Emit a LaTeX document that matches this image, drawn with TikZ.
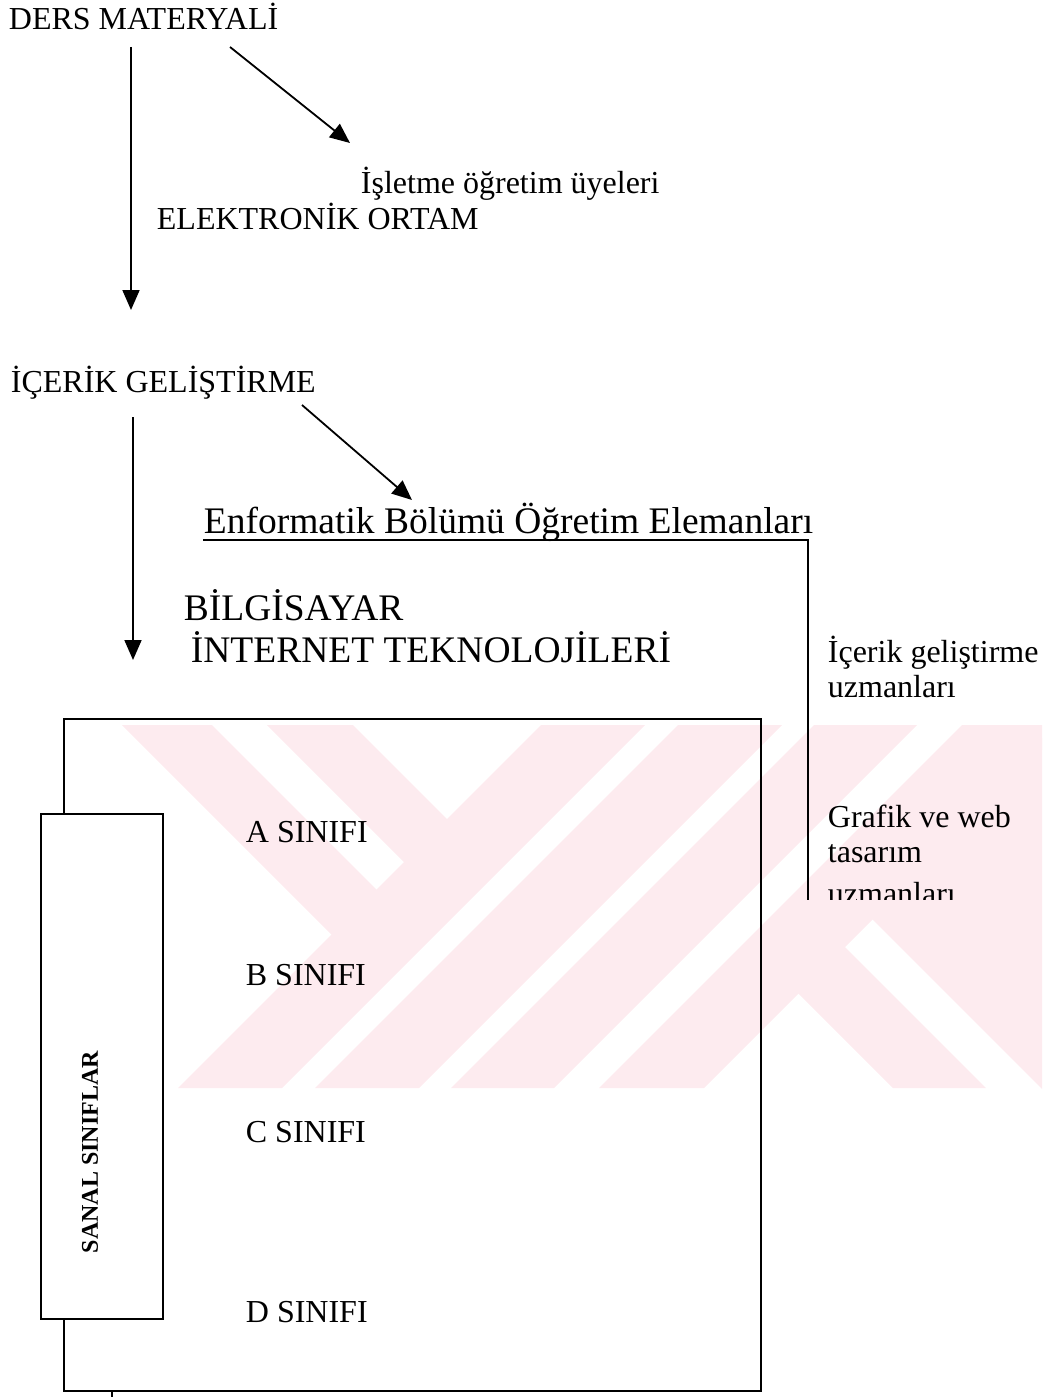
\documentclass[tikz,border=0pt]{standalone}
\usepackage{fontspec}
\setmainfont{Liberation Serif}
\usepackage{tikz}
\usetikzlibrary{positioning, arrows.meta}

\definecolor{wmpink}{RGB}{253,235,239}

\begin{document}
\begin{tikzpicture}[x=1pt, y=-1pt, line width=1.8pt,
        lbl/.style={anchor=base west, inner sep=0pt, font=\fontsize{32}{34}\selectfont},
        big/.style={anchor=base west, inner sep=0pt, font=\fontsize{37.5}{40}\selectfont},
        arr/.style={-{Triangle[length=20pt, width=17pt]}}]
        \useasboundingbox (0,0) rectangle (1042,1397);

        % watermark in the background
        \begin{scope}
            \clip (0,725) rectangle (1042,1088);
            \fill[wmpink] (541,725) -- (645,725) -- (282,1088) -- (178,1088) -- cycle;
            \fill[wmpink] (678,725) -- (782,725) -- (419,1088) -- (315,1088) -- cycle;
            \fill[wmpink] (814,725) -- (917,725) -- (554,1088) -- (451,1088) -- cycle;
            \fill[wmpink] (962,725) -- (1067,725) -- (704,1088) -- (599,1088) -- cycle;
            \fill[wmpink] (122,725) -- (212,725) -- (383.5,896.5) -- (338.5,941.5) -- cycle;
            \fill[wmpink] (267,725) -- (353,725) -- (454,826) -- (411,869) -- cycle;
            \fill[wmpink] (792.5,987.5) -- (839,941) -- (986,1088) -- (893,1088) -- cycle;
            \fill[wmpink] (866.5,913.5) -- (1100,680) -- (1100,1100) -- (1053,1100) -- cycle;
        \end{scope}

        \node[lbl] (ders) at (8,30) {DERS MATERYALİ};
        \node[lbl] (isletme) at (360,193) {İşletme öğretim üyeleri};
        \node[lbl] (elektronik) at (156,229) {ELEKTRONİK ORTAM};

        \node[lbl] (icerik) at (10,392) {İÇERİK GELİŞTİRME};
        \node[big] (enf) at (203,533) {Enformatik Bölümü Öğretim Elemanları};
        \node[big] (bilgisayar) at (183,620) {BİLGİSAYAR};
        \node[big] (internet) at (190,662) {İNTERNET TEKNOLOJİLERİ};

        \node[lbl] (uzmA) at (827,662) {İçerik geliştirme};
        \node[lbl] (uzmAb) at ([yshift=-35pt]uzmA.base west) {uzmanları};
        \node[lbl] (grafik) at (827,827) {Grafik ve web};
        \node[lbl] (tasarim) at ([yshift=-35pt]grafik.base west) {tasarım};
        \begin{scope}
            \clip (800,870) rectangle (1042,899);
            \node[lbl] (uzmB) at ([yshift=-42pt]tasarim.base west) {uzmanları};
        \end{scope}

        \node[draw, inner sep=0pt, minimum width=697pt, minimum height=672pt, anchor=north west] (frame) at (63,718) {};
        \node[draw, fill=white, inner sep=0pt, minimum width=122pt, minimum height=505pt, anchor=north west] (sanalbox) at (40,813) {};
        \node[rotate=90, inner sep=0pt, font=\fontsize{24}{26}\selectfont\bfseries] (sanal) at (90,1152) {SANAL SINIFLAR};

        \node[lbl] (sinifA) at (245,842) {A SINIFI};
        \node[lbl] (sinifB) at (245,985) {B SINIFI};
        \node[lbl] (sinifC) at (245,1142) {C SINIFI};
        \node[lbl] (sinifD) at (245,1322) {D SINIFI};

        \coordinate (d1) at (131,47);
        \coordinate (d1e) at (131,310);
        \coordinate (d2) at (230,47);
        \coordinate (d2e) at (350,143);
        \coordinate (i1) at (133,417);
        \coordinate (i1e) at (133,660);
        \coordinate (i2) at (302,405);
        \coordinate (i2e) at (412,500);
        \coordinate (ulend) at (808,540);
        \coordinate (rl) at (808,900);
        \coordinate (stub) at (112,1397);

        \draw[arr] (d1) to (d1e);
        \draw[arr] (d2) to (d2e);
        \draw[arr] (i1) to (i1e);
        \draw[arr] (i2) to (i2e);

        \draw[line width=1.4pt] ([yshift=-7pt]enf.base west) -- (ulend) -- (rl);
        \draw (frame.south west -| stub) -- (stub);
\end{tikzpicture}
\end{document}
